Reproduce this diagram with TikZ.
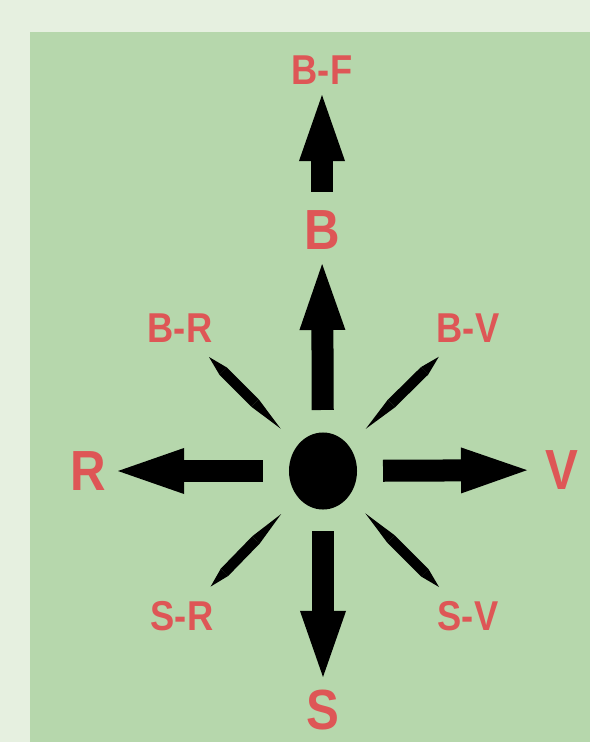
\documentclass[tikz,border=0pt]{standalone}
\usepackage{fontspec}
\setmainfont{Liberation Sans}
\usetikzlibrary{arrows.meta,shapes.geometric}
\definecolor{paleback}{RGB}{230,240,224}
\definecolor{panelgreen}{RGB}{182,215,172}
\definecolor{labelred}{RGB}{222,86,86}

\begin{document}
\begin{tikzpicture}[x=0.025cm,y=-0.025cm,
        lbl/.style={text=labelred,font=\bfseries\fontsize{25.8}{30}\selectfont,inner sep=0pt,yscale=1.15},
        biglbl/.style={lbl,font=\bfseries\fontsize{35}{40}\selectfont},
        fat/.style={line width=5.5mm,-{Triangle[length=16.5mm,width=11.5mm,line width=0pt]},shorten <=15mm},
        ray/.style={line width=2.6mm,{Triangle[length=9mm,width=2.6mm,line width=0pt]}-{Triangle[length=5mm,width=2.6mm,line width=0pt]},shorten <=15mm,shorten >=10.25mm}]
            \useasboundingbox (0,0) rectangle (590,742);
            \fill[paleback] (0,0) rectangle (590,742);
            \fill[panelgreen] (30,32) rectangle (590,742);

            \node[shape=ellipse,fill=black,minimum width=17mm,minimum height=19.25mm,inner sep=0pt] (c) at (323,471) {};

            \node[lbl] (bf) at (322,70) {B-F};
            \node[biglbl] (b) at (322,230) {B};
            \node[lbl] (br) at (180,328) {B-R};
            \node[lbl] (bv) at (468,328) {B-V};
            \node[biglbl] (r) at (88,471) {R};
            \node[biglbl] (v) at (562,470) {V};
            \node[lbl] (sr) at (182,616) {S-R};
            \node[lbl] (sv) at (468,616) {S-V};
            \node[biglbl] (s) at (323,710) {S};

            \draw[fat,shorten <=15.25mm,shorten >=8.5mm] (c.center) -- (b.center);
            \draw[fat,shorten <=9.5mm,shorten >=6.25mm] (b.center) -- (bf.center);
            \draw[fat,shorten >=7.5mm] (c.center) -- (r.center);
            \draw[fat,shorten >=8.75mm] (c.center) -- (v.center);
            \draw[fat,shorten >=8.25mm] (c.center) -- (s.center);

            \draw[ray] (c.center) -- (br.center);
            \draw[ray] (c.center) -- (bv.center);
            \draw[ray] (c.center) -- (sr.center);
            \draw[ray] (c.center) -- (sv.center);
        \end{tikzpicture}
\end{document}
